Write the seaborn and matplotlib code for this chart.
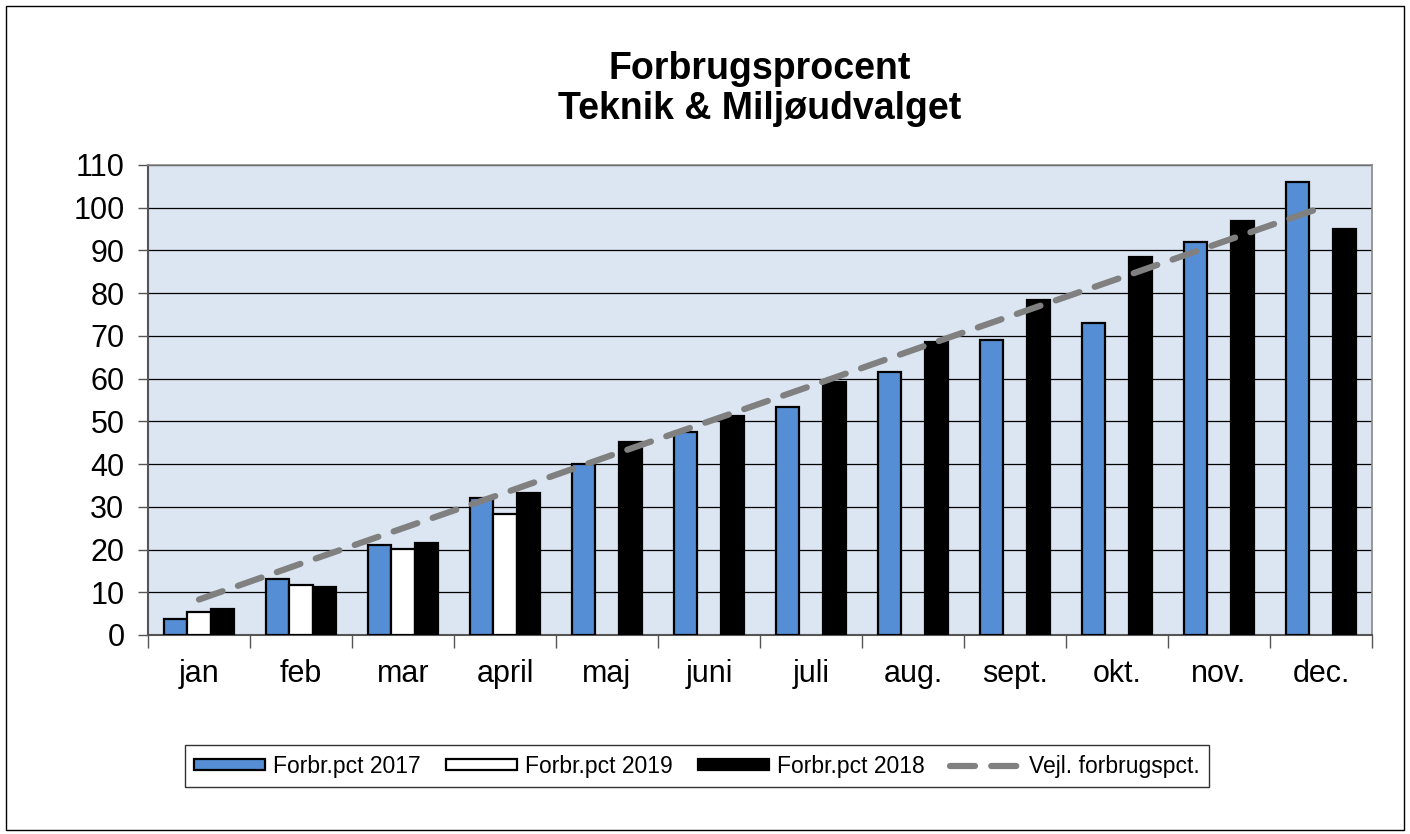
import numpy as np
import pandas as pd
import matplotlib
matplotlib.use("Agg")
import matplotlib.pyplot as plt
import seaborn as sns
from matplotlib.patches import Rectangle

months = ["jan", "feb", "mar", "april", "maj", "juni", "juli", "aug.", "sept.", "okt.", "nov.", "dec."]
pct_2017 = [3.7, 13.1, 21.1, 32.1, 40.0, 47.5, 53.4, 61.6, 69.1, 73.1, 92.0, 106.1]
pct_2019 = [5.4, 11.7, 20.1, 28.3, np.nan, np.nan, np.nan, np.nan, np.nan, np.nan, np.nan, np.nan]
pct_2018 = [6.1, 11.2, 21.5, 33.3, 45.2, 51.3, 59.3, 68.6, 78.5, 88.5, 97.0, 95.1]
vejl = [8.3, 16.7, 25.0, 33.3, 41.7, 50.0, 58.3, 66.7, 75.0, 83.3, 91.7, 100.0]

series_names = ["Forbr.pct 2017", "Forbr.pct 2019", "Forbr.pct 2018"]

df = pd.DataFrame({
    "month": months * 3,
    "serie": [series_names[0]] * 12 + [series_names[1]] * 12 + [series_names[2]] * 12,
    "value": pct_2017 + pct_2019 + pct_2018,
})

sns.set_style("white")
plt.rcParams["font.family"] = ["Liberation Sans", "DejaVu Sans"]
plt.rcParams["text.color"] = "black"
plt.rcParams["xtick.color"] = "black"
plt.rcParams["ytick.color"] = "black"

fig = plt.figure(figsize=(14.1, 8.34), dpi=100)
ax = fig.add_axes([148 / 1410, 1 - 635 / 834, (1372 - 148) / 1410, (635 - 165) / 834])
ax.set_facecolor("#DCE6F2")

sns.barplot(data=df, x="month", y="value", hue="serie", hue_order=series_names,
            order=months, palette=["#558ED5", "white", "black"], saturation=1, width=0.68,
            edgecolor="black", linewidth=1.6, errorbar=None, ax=ax, zorder=3)

sns.lineplot(x=np.arange(12), y=vejl, color="#808080", linewidth=4.5,
             dashes=False, ax=ax, zorder=4, label="Vejl. forbrugspct.")
ax.lines[-1].set_dashes((4, 2.6))
ax.lines[-1].set_dash_capstyle("round")

ax.set_ylim(0, 110)
ax.set_xlim(-0.5, 11.5)
ax.set_yticks(range(0, 111, 10))
ax.yaxis.grid(True, color="black", linewidth=0.9, zorder=0)
ax.set_axisbelow(True)
ax.set_xlabel("")
ax.set_ylabel("")

ax.tick_params(axis="y", labelsize=22, length=7, width=1, color="#555555", pad=10, left=True,
               labelcolor="black")
ax.tick_params(axis="x", which="major", labelsize=22, length=0, pad=17, labelcolor="black")
ax.set_xticks(np.arange(-0.5, 12, 1), minor=True)
ax.tick_params(axis="x", which="minor", length=9, width=1, color="#555555", direction="out", bottom=True)

for side in ["top", "right"]:
    ax.spines[side].set_color("#888888")
    ax.spines[side].set_linewidth(1.2)
for side in ["left", "bottom"]:
    ax.spines[side].set_color("#555555")
    ax.spines[side].set_linewidth(1.5)

fig.text(760 / 1410, 1 - 89 / 834, "Forbrugsprocent\nTeknik & Miljøudvalget",
         ha="center", va="center", fontsize=27, fontweight="bold", linespacing=1.12,
         color="black")

handles, labels = ax.get_legend_handles_labels()
ax.get_legend().remove()
leg = fig.legend(handles, labels, loc="center", bbox_to_anchor=(697 / 1410, 1 - 766 / 834),
                 ncol=4, fontsize=16.5, frameon=True, fancybox=False, edgecolor="black",
                 handlelength=3.1, handleheight=0.4, columnspacing=1.1, handletextpad=0.35,
                 borderpad=0.4, borderaxespad=0)
leg.get_frame().set_linewidth(1.0)
for t in leg.get_texts():
    t.set_color("black")

fig.patches.append(Rectangle((6 / 1410, 4 / 834), 1398 / 1410, 824 / 834, transform=fig.transFigure,
                             fill=False, edgecolor="black", linewidth=1.0))

fig.savefig("out.png", dpi=100)
